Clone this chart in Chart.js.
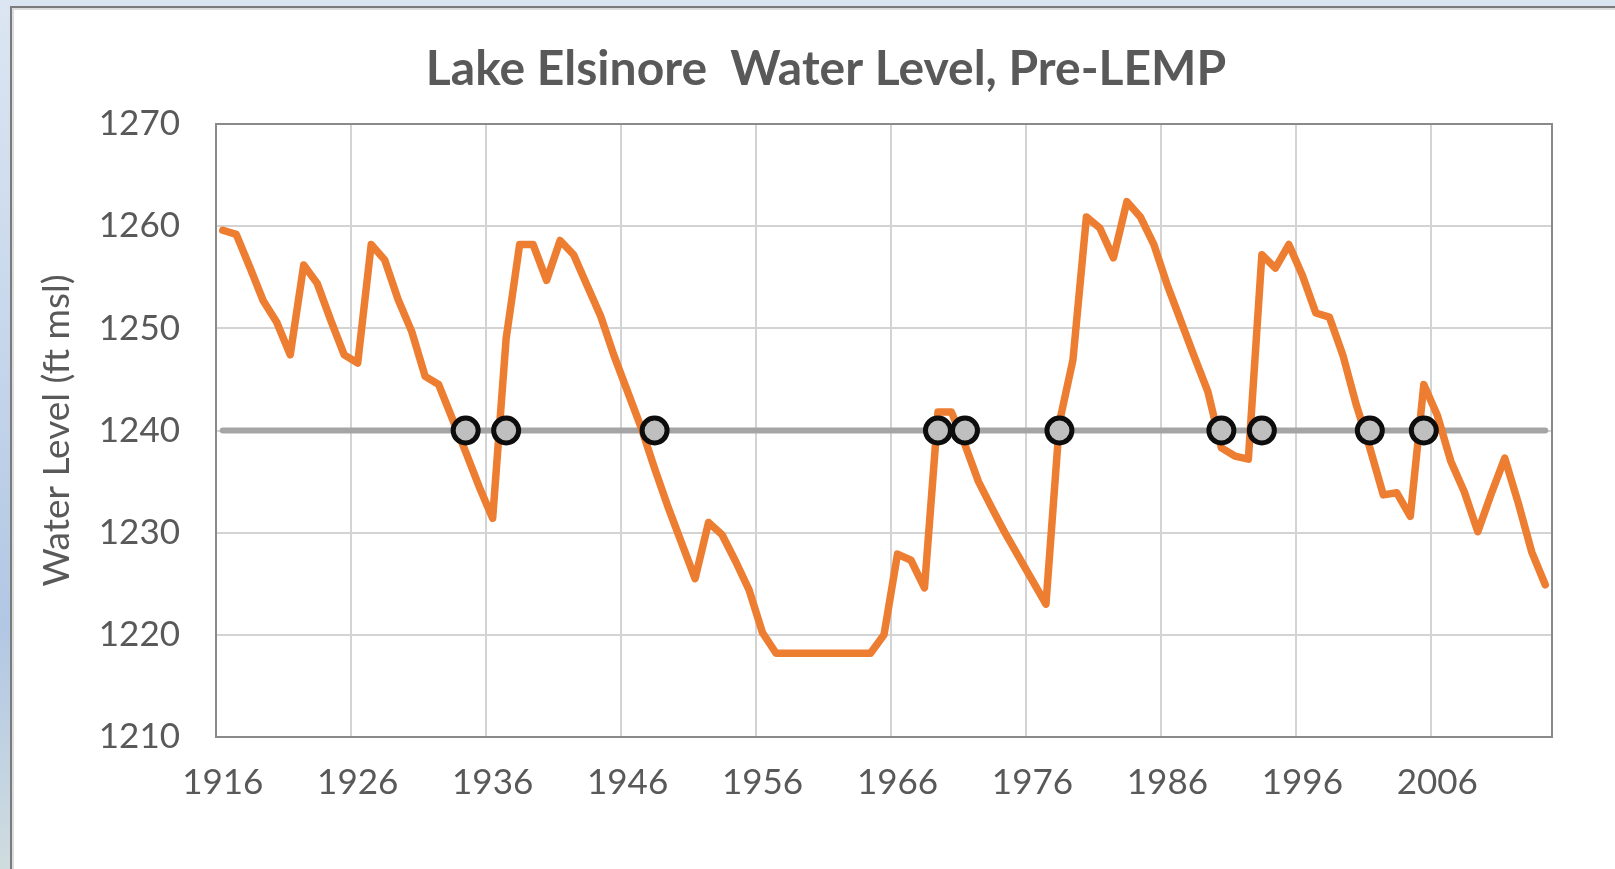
<!DOCTYPE html>
<html><head><meta charset="utf-8">
<script src="https://cdn.jsdelivr.net/npm/chart.js@4.4.1/dist/chart.umd.min.js"></script>
<style>
html,body{margin:0;padding:0;width:1615px;height:869px;overflow:hidden;background:#dbe5f1;}
#strip{position:absolute;left:0;top:0;width:10px;height:869px;background:linear-gradient(to bottom,#dce6f2 0%,#c9d8ec 35%,#b2c7e4 72%,#cfdcdf 100%);}
#panel{position:absolute;left:10px;top:6px;right:0;bottom:0;background:#fff;border-left:2px solid #7b7b7b;border-top:2px solid #7b7b7b;box-shadow:inset 2px 2px 0 #dcdcdc;}
canvas{position:absolute;left:0;top:0;}
</style></head>
<body><div id="strip"></div><div id="panel"></div><canvas id="c" width="1615" height="869"></canvas>
<script>
// ---- data ----
const years = [1916,1917,1918,1919,1920,1921,1922,1923,1924,1925,1926,1927,1928,1929,1930,1931,1932,1933,1934,1935,1936,1937,1938,1939,1940,1941,1942,1943,1944,1945,1946,1947,1948,1949,1950,1951,1952,1953,1954,1955,1956,1957,1958,1959,1960,1961,1962,1963,1964,1965,1966,1967,1968,1969,1970,1971,1972,1973,1974,1975,1976,1977,1978,1979,1980,1981,1982,1983,1984,1985,1986,1987,1988,1989,1990,1991,1992,1993,1994,1995,1996,1997,1998,1999,2000,2001,2002,2003,2004,2005,2006,2007,2008,2009,2010,2011,2012,2013,2014];
const waterLevel = [1259.6,1259.2,1256.0,1252.7,1250.6,1247.4,1256.2,1254.4,1250.8,1247.4,
  1246.6,1258.2,1256.7,1252.8,1249.7,1245.3,1244.5,1241.2,1237.9,1234.5,
  1231.4,1249.0,1258.2,1258.2,1254.7,1258.6,1257.2,1254.2,1251.2,1247.3,
  1243.8,1240.3,1236.3,1232.5,1229.0,1225.5,1231.0,1229.8,1227.2,1224.4,
  1220.2,1218.2,1218.2,1218.2,1218.2,1218.2,1218.2,1218.2,1218.2,1220.0,
  1227.9,1227.3,1224.6,1241.8,1241.8,1238.6,1235.0,1232.4,1229.9,1227.6,
  1225.3,1223.0,1240.8,1246.9,1260.9,1259.8,1256.9,1262.4,1260.9,1258.2,
  1254.2,1250.7,1247.2,1243.8,1238.3,1237.5,1237.2,1257.2,1255.9,1258.2,
  1255.2,1251.5,1251.1,1247.4,1242.5,1238.3,1233.7,1233.9,1231.6,1244.5,
  1241.5,1237.0,1234.0,1230.1,1233.8,1237.3,1232.9,1228.1,1224.9];
const thresholdLevel = 1240;
const crossingYears = [1934,1937,1948,1969,1971,1978,1990,1993,2001,2005];
const xLabelYears = [1916,1926,1936,1946,1956,1966,1976,1986,1996,2006];
const yMin = 1210, yMax = 1270, yStep = 10;

// ---- derived series ----
const thresholdSeries = years.map(() => thresholdLevel);
const crossingSeries = years.map(y => crossingYears.includes(y) ? thresholdLevel : null);

const textColor = '#595959';
const gridColor = '#d3d3d3';

const plotFrame = {
  id: 'plotFrame',
  beforeDatasetsDraw(chart) {
    const {ctx, chartArea: a} = chart;
    ctx.save();
    ctx.strokeStyle = '#8a8a8a';
    ctx.lineWidth = 2;
    ctx.strokeRect(a.left, a.top, a.right - a.left, a.bottom - a.top);
    ctx.restore();
  }
};

new Chart(document.getElementById('c'), {
  type: 'line',
  data: {
    labels: years.map(String),
    datasets: [
      { label: 'Crossings', data: crossingSeries, showLine: false, order: 0,
        pointRadius: 12.5, pointHoverRadius: 12.5, pointBorderWidth: 5,
        pointBackgroundColor: '#bfbfbf', pointBorderColor: '#0d0d0d' },
      { label: 'Water Level', data: waterLevel, order: 1, borderColor: '#ed7d31',
        borderWidth: 7.5, pointRadius: 0, tension: 0,
        borderJoinStyle: 'round', borderCapStyle: 'round' },
      { label: '1240', data: thresholdSeries, order: 2, borderColor: '#a5a5a5',
        borderWidth: 6, pointRadius: 0, borderCapStyle: 'round' }
    ]
  },
  options: {
    responsive: false,
    animation: false,
    events: [],
    layout: { padding: { left: 100, right: 63, top: 0, bottom: 0 } },
    plugins: {
      legend: { display: false },
      tooltip: { enabled: false },
      title: {
        display: true,
        text: 'Lake Elsinore  Water Level, Pre-LEMP',
        color: textColor,
        font: { family: 'Lato', size: 48, weight: 'bold', lineHeight: 1.2 },
        padding: { top: 41.2, bottom: 25.2 }
      }
    },
    scales: {
      x: {
        type: 'category',
        offset: true,
        border: { display: false },
        grid: {
          offset: true,
          drawTicks: false,
          lineWidth: 2,
          color: ctx => (ctx.tick && xLabelYears.includes(years[ctx.index])) ? gridColor : 'rgba(0,0,0,0)'
        },
        ticks: {
          autoSkip: false, maxRotation: 0, minRotation: 0, padding: 25,
          color: textColor,
          font: { family: 'Lato', size: 35 },
          callback: function(v, i) { return xLabelYears.includes(years[i]) ? String(years[i]) : ''; }
        },
        afterFit: s => { s.height = 132; }
      },
      y: {
        min: yMin, max: yMax,
        border: { display: false },
        grid: { drawTicks: false, lineWidth: 2, color: gridColor },
        ticks: {
          stepSize: yStep, padding: 36, color: textColor,
          font: { family: 'Lato', size: 35 },
          callback: v => String(v)
        },
        title: {
          display: true, text: 'Water Level (ft msl)', color: textColor,
          font: { family: 'Lato', size: 37, lineHeight: 1.2 },
          padding: { top: -65.2, bottom: 0 }
        },
        afterFit: s => { s.width = 116; }
      }
    }
  },
  plugins: [plotFrame]
});
</script>
</body></html>
